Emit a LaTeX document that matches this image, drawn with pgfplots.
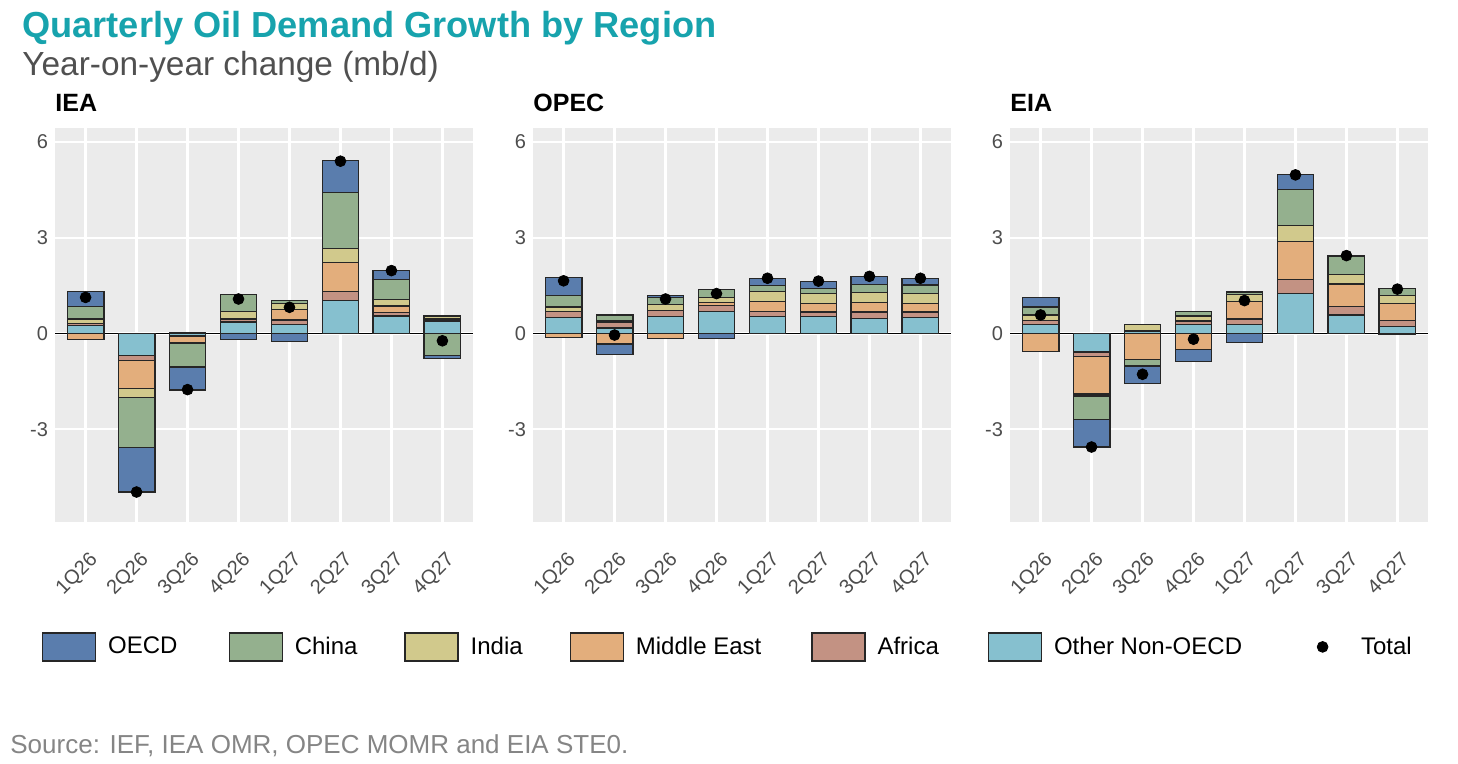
\documentclass[border=0pt]{standalone}
\usepackage{pgfplots}
\pgfplotsset{compat=1.18}
\usepackage{pgfplotstable}
\usepackage{fontspec}
\setmainfont{Liberation Sans}

\definecolor{cOECD}{HTML}{5A7DAD}
\definecolor{cChina}{HTML}{94B08E}
\definecolor{cIndia}{HTML}{D1C98C}
\definecolor{cME}{HTML}{E3AE7C}
\definecolor{cAfrica}{HTML}{C39283}
\definecolor{cOther}{HTML}{86C0CF}
\definecolor{titleteal}{HTML}{17A3AD}
\definecolor{subgrey}{HTML}{505050}
\definecolor{srcgrey}{HTML}{858585}
\definecolor{panelbg}{HTML}{EBEBEB}
\definecolor{tickgrey}{HTML}{4D4D4D}

% x: quarter index; values in mb/d (year-on-year change)
\pgfplotstableread{
x OECD China India ME Africa Other Total
1  0.47  0.40  0.15 -0.19  0.06  0.24  1.13
2 -1.39 -1.57 -0.29 -0.88 -0.14 -0.70 -4.97
3 -0.72 -0.75  0.04 -0.22  0.00 -0.08 -1.76
4 -0.18  0.53  0.22  0.04  0.07  0.36  1.08
5 -0.25  0.09  0.18  0.34  0.13  0.29  0.82
6  1.01  1.74  0.44  0.91  0.29  1.03  5.40
7  0.28  0.62  0.21  0.21  0.10  0.55  1.97
8 -0.08 -0.70  0.08  0.05  0.04  0.38 -0.23
}\iea

\pgfplotstableread{
x OECD China India ME Africa Other Total
1  0.55  0.37  0.14 -0.12  0.19  0.50  1.65
2 -0.32  0.18  0.04 -0.33  0.19  0.17 -0.05
3  0.07  0.20  0.19 -0.16  0.21  0.52  1.08
4 -0.16  0.26  0.16  0.09  0.20  0.68  1.25
5  0.20  0.20  0.30  0.32  0.16  0.53  1.73
6  0.22  0.18  0.30  0.27  0.15  0.52  1.64
7  0.24  0.26  0.30  0.31  0.19  0.48  1.79
8  0.20  0.26  0.32  0.27  0.17  0.50  1.73
}\opec

\pgfplotstableread{
x OECD China India ME Africa Other Total
1  0.30  0.25  0.17 -0.57  0.12  0.29  0.58
2 -0.86 -0.74 -0.06 -1.19 -0.13 -0.58 -3.56
3 -0.55 -0.20  0.17 -0.82  0.05  0.05 -1.28
4 -0.37  0.13  0.16 -0.51  0.10  0.29 -0.18
5 -0.29  0.09  0.21  0.55  0.17  0.28  1.03
6  0.48  1.12  0.50  1.20  0.44  1.24  4.97
7  0.04  0.55  0.31  0.70  0.27  0.58  2.44
8 -0.03  0.23  0.25  0.53  0.18  0.22  1.39
}\eia

\pgfplotsset{
  base/.style={scale only axis, width=209pt, height=197pt,
    xmin=0.4, xmax=8.6, ymin=-5.91, ymax=6.44, anchor=north west},
  frame/.style={base, ybar stacked, bar width=0.72,
    axis background/.style={fill=panelbg},
    axis line style={draw=none},
    xtick={1,...,8},
    xticklabels={1Q26,2Q26,3Q26,4Q26,1Q27,2Q27,3Q27,4Q27},
    ytick={-3,0,3,6}, yticklabels={-3,0,3,6},
    grid=major, major grid style={white, line width=1.1pt},
    major tick length=0pt,
    tick label style={font=\fontsize{10}{12}\selectfont, text=tickgrey},
    xticklabel style={rotate=45, anchor=east, xshift=-5.7pt, yshift=-15.6pt},
    extra y ticks={0}, extra y tick labels={},
    extra y tick style={grid=major, major grid style={black, line width=0.6pt}}},
  over/.style={base, hide axis, ybar stacked, bar width=0.72},
  barsty/.style={draw=black!85, line width=0.6pt},
  boxleg/.style={legend image code/.code={\draw[fill=#1, draw=black!85, line width=0.6pt] (0pt,-7pt) rectangle (26.5pt,7pt);}},
}

\newcommand{\posbars}[1]{%
  \addplot[fill=cOther,  barsty] table[x=x, y expr={max(\thisrow{Other},0)}]{#1};
  \addplot[fill=cAfrica, barsty] table[x=x, y expr={max(\thisrow{Africa},0)}]{#1};
  \addplot[fill=cME,     barsty] table[x=x, y expr={max(\thisrow{ME},0)}]{#1};
  \addplot[fill=cIndia,  barsty] table[x=x, y expr={max(\thisrow{India},0)}]{#1};
  \addplot[fill=cChina,  barsty] table[x=x, y expr={max(\thisrow{China},0)}]{#1};
  \addplot[fill=cOECD,   barsty] table[x=x, y expr={max(\thisrow{OECD},0)}]{#1};
}
\newcommand{\negbars}[1]{%
  \addplot[fill=cOther,  barsty] table[x=x, y expr={min(\thisrow{Other},0)}]{#1};
  \addplot[fill=cAfrica, barsty] table[x=x, y expr={min(\thisrow{Africa},0)}]{#1};
  \addplot[fill=cME,     barsty] table[x=x, y expr={min(\thisrow{ME},0)}]{#1};
  \addplot[fill=cIndia,  barsty] table[x=x, y expr={min(\thisrow{India},0)}]{#1};
  \addplot[fill=cChina,  barsty] table[x=x, y expr={min(\thisrow{China},0)}]{#1};
  \addplot[fill=cOECD,   barsty] table[x=x, y expr={min(\thisrow{OECD},0)}]{#1};
}
\newcommand{\panel}[3]{%
  \begin{axis}[frame, at={(#2,-64pt)}]
    \posbars{#1}
  \end{axis}
  \begin{axis}[over, at={(#2,-64pt)}]
    \negbars{#1}
  \end{axis}
  \node[anchor=base west, inner sep=0pt, font=\fontsize{12.5}{15}\selectfont\bfseries] at (#2,-56pt) {#3};
}

\begin{document}
\begin{tikzpicture}
\path[use as bounding box] (0,0) rectangle (729pt,-382pt);

\node[anchor=base west, inner sep=0pt, font=\fontsize{18.1}{22}\selectfont\bfseries, text=titleteal] at (11pt,-19pt) {Quarterly Oil Demand Growth by Region};
\node[anchor=base west, inner sep=0pt, font=\fontsize{16.7}{20}\selectfont, text=subgrey] at (11pt,-38pt) {Year-on-year change (mb/d)};

\panel{\iea}{27.5pt}{IEA}
\panel{\opec}{266.5pt}{OPEC}
\panel{\eia}{505pt}{EIA}

% totals
\begin{axis}[base, hide axis, at={(27.5pt,-64pt)},
  legend columns=7, legend cell align=left,
  legend style={at={(-0.031,-0.317)}, anchor=west, draw=none, fill=none,
    inner sep=0pt, outer sep=0pt,
    font=\fontsize{12}{14}\selectfont,
    /tikz/every odd column/.append style={column sep=4pt},
    /tikz/every even column/.append style={column sep=21pt}}]
  \addlegendimage{boxleg=cOECD}\addlegendentry{OECD\rule{2.5pt}{0pt}}
  \addlegendimage{boxleg=cChina}\addlegendentry{China\rule{0.5pt}{0pt}}
  \addlegendimage{boxleg=cIndia}\addlegendentry{India\rule{0.5pt}{0pt}}
  \addlegendimage{boxleg=cME}\addlegendentry{Middle East\rule{2pt}{0pt}}
  \addlegendimage{boxleg=cAfrica}\addlegendentry{Africa\rule{1.5pt}{0pt}}
  \addlegendimage{boxleg=cOther}\addlegendentry{Other Non-OECD\rule{4pt}{0pt}}
  \addplot[only marks, mark=*, mark size=2.7pt, black,
    legend image code/.code={\path[draw=none, fill=none] (0pt,-7pt) rectangle (26.5pt,7pt);\fill[black] (13.25pt,0pt) circle (2.7pt);}]
    table[x=x, y=Total]{\iea};
  \addlegendentry{Total}
\end{axis}
\begin{axis}[base, hide axis, at={(266.5pt,-64pt)}]
  \addplot[only marks, mark=*, mark size=2.7pt, black] table[x=x, y=Total]{\opec};
\end{axis}
\begin{axis}[base, hide axis, at={(505pt,-64pt)}]
  \addplot[only marks, mark=*, mark size=2.7pt, black] table[x=x, y=Total]{\eia};
\end{axis}

\node[anchor=base west, inner sep=0pt, font=\fontsize{13}{15}\selectfont, text=srcgrey] at (5pt,-377pt) {Source: IEF, IEA OMR, OPEC MOMR and EIA STE0.};
\end{tikzpicture}
\end{document}
